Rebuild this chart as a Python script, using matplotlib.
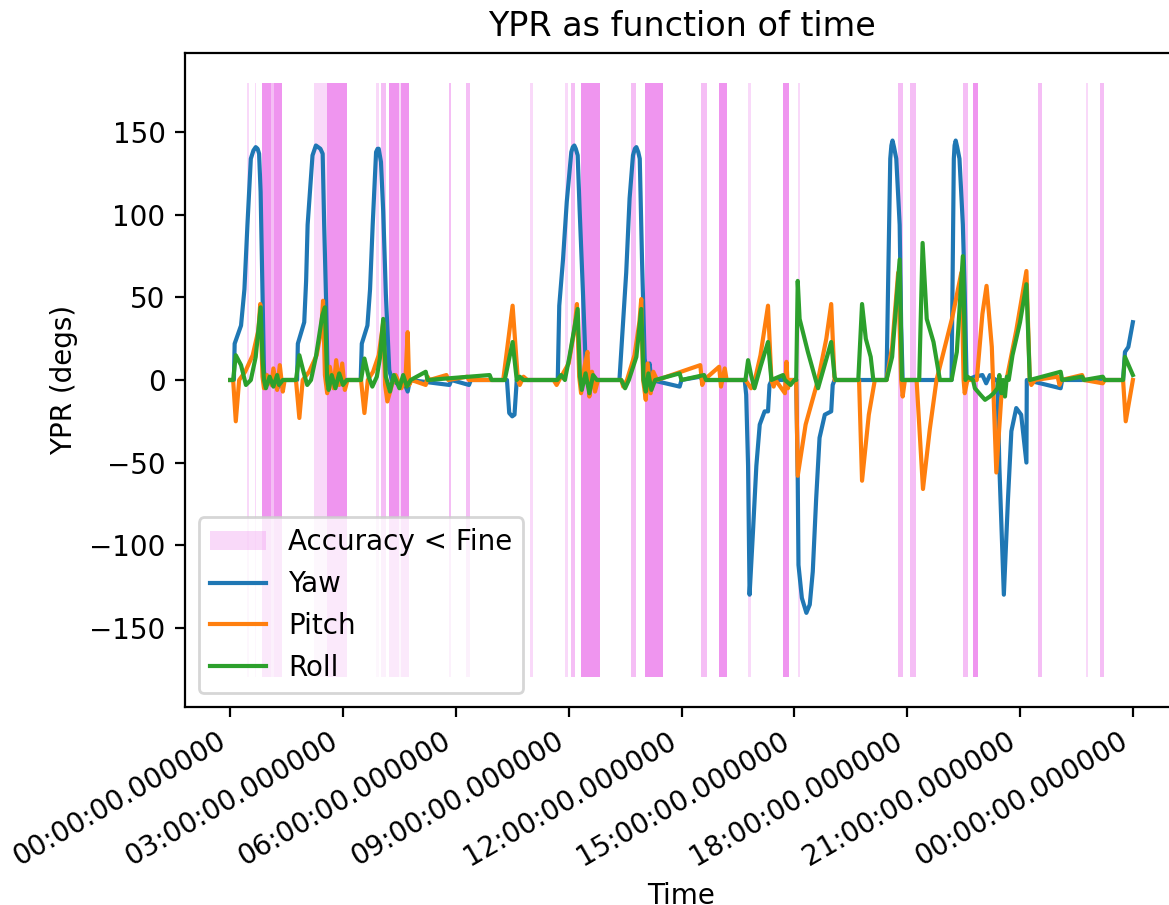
import datetime as dt
import matplotlib
matplotlib.use("Agg")
import matplotlib.pyplot as plt
import matplotlib.dates as mdates

# hours since midnight, degrees
yaw_h = [0, 0.1, 0.12, 0.29, 0.38, 0.46, 0.55, 0.62, 0.68, 0.73, 0.77, 0.81, 0.86, 0.9, 0.95, 1.2, 1.25, 1.3, 1.4,
         1.78, 1.8, 1.97, 2.02, 2.06, 2.19, 2.28, 2.34, 2.4, 2.46, 2.5, 2.55, 2.59, 2.65, 2.8, 2.9,
         3.47, 3.5, 3.65, 3.72, 3.79, 3.88, 3.92, 3.95, 4.01, 4.07, 4.14, 4.23, 4.3, 4.5, 4.6, 4.72, 4.78,
         5.83, 5.88, 6.35, 6.4,
         7.36, 7.42, 7.5, 7.56, 7.62,
         8.71, 8.75, 8.85, 8.95, 9.07, 9.11, 9.15, 9.19, 9.24, 9.29, 9.38, 9.46, 9.52, 9.6, 9.7,
         10.35, 10.44, 10.53, 10.62, 10.71, 10.76, 10.8, 10.85, 10.89, 10.95, 11.02, 11.08, 11.15, 11.2,
         11.95, 12.0, 12.5, 12.55,
         13.68, 13.72, 13.77, 13.81, 13.9, 13.99, 14.08, 14.21, 14.3, 14.34, 14.4,
         15.05, 15.09, 15.11, 15.2, 15.32, 15.41, 15.49, 15.58, 15.67, 15.81, 15.98, 16.02, 16.07,
         17.45, 17.55, 17.58, 17.61, 17.65, 17.71, 17.8, 17.84, 17.88,
         19.18, 19.24, 19.26, 19.29, 19.33, 19.39, 19.48, 19.53, 19.58, 19.8, 20.0, 20.1, 20.2, 20.35,
         20.4, 20.45, 20.57, 20.68, 20.77, 20.9, 21.03, 21.17, 21.18,
         22.08, 22.12, 23.74, 23.79, 23.88, 24.0]
yaw_v = [0, 0, 22, 33, 55, 94, 134, 139, 141, 140, 137, 114, 53, 5, 0, -2, 2, -4, 0,
         0, 22, 35, 60, 94, 136, 142, 141, 140, 137, 94, 49, 5, 0, -3, 0,
         0, 22, 33, 55, 94, 138, 140, 140, 132, 102, 52, 6, 0, -3, 0, -7, 0,
         -3, 0, -3, 0,
         0, -20, -22, -21, 0,
         0, 45, 73, 108, 138, 141, 142, 140, 136, 104, 53, 5, 0, -4, 0,
         0, 33, 65, 110, 136, 140, 141, 138, 134, 73, 13, 3, 10, 0,
         -4, 0, 2, 0,
         0, -9, -52, -130, -92, -52, -27, -19, -19, -3, 0,
         0, -60, -112, -132, -141, -136, -116, -72, -35, -21, -19, -3, 0,
         0, 134, 142, 145, 141, 134, 94, 33, 0,
         0, 134, 142, 145, 141, 134, 94, 53, 0, 2, 3, -2, 3, 0,
         0, -52, -130, -72, -31, -17, -21, -50, 0,
         -5, 0, 0, 17, 20, 35]

pitch_h = [0, 0.08, 0.15, 0.24, 0.4, 0.6, 0.75, 0.8, 0.86, 0.9, 0.98, 1.1, 1.15, 1.25, 1.32, 1.4, 1.45,
           1.75, 1.84, 1.93, 2.1, 2.3, 2.42, 2.47, 2.52, 2.58, 2.65, 2.75, 2.82, 2.9, 2.98, 3.05, 3.12,
           3.48, 3.57, 3.66, 3.8, 3.95, 4.07, 4.12, 4.18, 4.3, 4.4, 4.55, 4.66, 4.72, 4.76, 4.82,
           5.2, 5.25, 5.3, 5.75, 5.8, 6.3, 6.35,
           7.26, 7.51, 7.65, 7.7, 7.8, 7.9,
           8.6, 8.68, 8.75, 9.0, 9.15, 9.22, 9.28, 9.33, 9.42, 9.5, 9.55, 9.62, 9.7, 9.78,
           10.4, 10.45, 10.55, 10.75, 10.88, 10.93, 10.98, 11.05, 11.1, 11.18, 11.25, 11.35,
           12.5, 12.55, 12.6, 13.0, 13.05, 13.15, 13.2,
           13.7, 13.85, 13.95, 14.1, 14.3, 14.39, 14.45, 14.5,
           14.75, 14.79, 14.83, 14.88,
           15.05, 15.09, 15.3, 15.63, 15.85, 15.98, 16.07,
           16.72, 16.8, 16.98, 17.14,
           17.45, 17.6, 17.76, 17.84, 17.88, 17.94,
           18.25, 18.42, 18.6, 18.78, 19.2, 19.44, 19.5, 19.53, 19.6,
           19.85, 20.0, 20.11, 20.25, 20.37, 20.5, 20.64, 20.9, 21.17, 21.26, 21.3, 21.4,
           22.0, 22.05, 22.1, 22.65, 22.7, 23.2, 23.25,
           23.74, 23.81, 24.0]
pitch_v = [0, 0, -25, 0, 5, 15, 30, 46, 2, -5, 3, -3, 7, -6, 9, -7, 0,
           0, -23, 0, 5, 15, 30, 48, 3, -8, 8, -5, 12, -3, 10, -6, 0,
           0, -20, 0, 5, 15, 35, -3, -13, -3, 3, -5, 0, 29, -3, 0,
           -3, 2, 0, 3, 0, 2, 0,
           0, 45, 0, -3, 2, 0,
           0, -3, 0, 10, 30, 46, 2, -8, 8, 17, -10, 5, -7, 0,
           0, -4, 0, 15, 35, 49, 0, -12, 10, -8, 5, 0,
           9, -3, 0, 8, -4, 7, 0,
           0, -5, 0, 15, 45, 0, -4, 0,
           -8, 11, -5, 0,
           0, -58, -27, 0, 25, 46, 0,
           0, -61, -21, 0,
           0, 20, 65, 0, -10, 0,
           0, -66, -30, 0, 38, 65, 0, -8, 0,
           0, 40, 57, 20, -56, -11, 0, 30, 66, 0, -3, 0,
           2, -3, 0, 3, 0, -2, 0,
           0, -25, 0]

roll_h = [0, 0.08, 0.15, 0.29, 0.42, 0.55, 0.68, 0.77, 0.81, 0.86, 0.9, 0.95, 1.05, 1.15, 1.25, 1.3, 1.4,
          1.75, 1.84, 1.95, 2.05, 2.15, 2.28, 2.45, 2.52, 2.58, 2.62, 2.7, 2.8, 2.9, 3.0, 3.1,
          3.48, 3.57, 3.68, 3.78, 3.9, 3.98, 4.07, 4.14, 4.25, 4.35, 4.5, 4.6, 4.7, 4.8,
          5.2, 5.25, 6.9, 6.95,
          7.3, 7.51, 7.62, 7.7, 7.8,
          8.7, 8.8, 8.9, 9.02, 9.24, 9.3, 9.35, 9.45, 9.55, 9.65, 9.75,
          10.4, 10.5, 10.6, 10.8, 10.93, 10.99, 11.05, 11.12, 11.2, 11.3,
          11.95, 12.0, 12.6, 12.65,
          13.7, 13.77, 13.85, 13.94, 14.1, 14.3, 14.39,
          14.7, 14.75, 14.9, 15.0,
          15.05, 15.09, 15.14, 15.36, 15.63, 15.98, 16.07, 16.1,
          16.7, 16.8, 16.9, 17.03, 17.1,
          17.45, 17.6, 17.8, 17.86,
          18.32, 18.41, 18.52, 18.7, 18.87,
          19.18, 19.32, 19.48, 19.55, 19.6,
          19.75, 19.8, 19.95, 20.07, 20.2, 20.3, 20.4, 20.45, 20.5, 20.55, 20.6, 20.65, 20.7,
          20.8, 21.0, 21.17, 21.26,
          22.08, 22.12, 22.65, 22.7, 23.2, 23.25,
          23.74, 23.79, 24.0]
roll_v = [0, 0, 15, 9, -3, 0, 14, 35, 44, 13, 0, -5, 2, -4, 3, -3, 0,
          0, 15, 5, -3, 0, 14, 39, 44, 0, -6, 3, -5, 4, -3, 0,
          0, 13, 2, -4, 2, 13, 37, 2, -7, 3, -5, 3, -4, 0,
          5, 0, 3, 0,
          0, 23, 0, 2, 0,
          0, 3, 0, 14, 43, 2, -6, 4, -8, 3, 0,
          0, -5, 0, 14, 43, 0, -7, 4, -6, 0,
          4, 0, 3, 0,
          0, 12, 3, -5, 8, 23, 0,
          3, 0, -3, 0,
          0, 60, 37, 17, -5, 23, 2, 0,
          0, 46, 25, 14, 0,
          0, 14, 73, 0,
          0, 83, 37, 23, 0,
          0, 17, 75, 0, 2,
          0, -5, -9, -12, -10, -8, -5, 3, -8, 0, -10, 2, 0,
          15, 35, 58, 0,
          5, 0, 2, 0, 2, 0,
          0, 14, 3]

# low-accuracy intervals (start h, end h, overlap count)
span_start = [0.44, 0.66, 0.85, 1.09, 1.17, 2.24, 2.58, 3.89, 4.02, 4.23, 4.50, 4.55, 5.83, 6.28,
              7.96, 8.91, 9.07, 9.34, 10.67, 11.02, 12.53, 13.01, 13.78, 14.69, 15.09,
              17.75, 18.07, 19.48, 19.74, 21.47, 22.75, 23.12]
span_end = [0.49, 0.70, 1.09, 1.17, 1.38, 2.58, 3.11, 3.96, 4.15, 4.50, 4.55, 4.76, 5.88, 6.39,
            8.04, 8.97, 9.18, 9.82, 10.80, 11.50, 12.67, 13.20, 13.86, 14.85, 15.14,
            17.88, 18.23, 19.61, 19.88, 21.58, 22.80, 23.23]
span_layers = [1, 1, 5, 2, 5, 1, 5, 1, 2, 5, 1, 5, 2, 2,
               1, 1, 2, 5, 2, 5, 2, 5, 1, 5, 1,
               2, 2, 2, 5, 2, 1, 2]

day0 = dt.datetime(2024, 1, 1)


def to_time(hours):
    return [day0 + dt.timedelta(hours=h) for h in hours]


fig = plt.figure(figsize=(1169 / 200, 905 / 200), dpi=200)
ax = fig.add_axes([185 / 1169, 198 / 905, 993 / 1169, 654 / 905])

first = True
for s, e, n in zip(span_start, span_end, span_layers):
    for _ in range(n):
        ax.fill_between(to_time([s, e]), -180, 180, color='violet', alpha=0.3, lw=0,
                        label='Accuracy < Fine' if first else None)
        first = False

ax.plot(to_time(yaw_h), yaw_v, label='Yaw')
ax.plot(to_time(pitch_h), pitch_v, label='Pitch')
ax.plot(to_time(roll_h), roll_v, label='Roll')

ax.xaxis.set_major_locator(mdates.HourLocator(byhour=range(0, 24, 3)))
ax.xaxis.set_major_formatter(mdates.DateFormatter('%H:%M:%S.%f'))
for lbl in ax.get_xticklabels():
    lbl.set_rotation(30)
    lbl.set_ha('right')

ax.set_title('YPR as function of time')
ax.set_xlabel('Time')
ax.set_ylabel('YPR (degs)')
ax.legend(loc='lower left')

fig.savefig('out.png', dpi=200)
